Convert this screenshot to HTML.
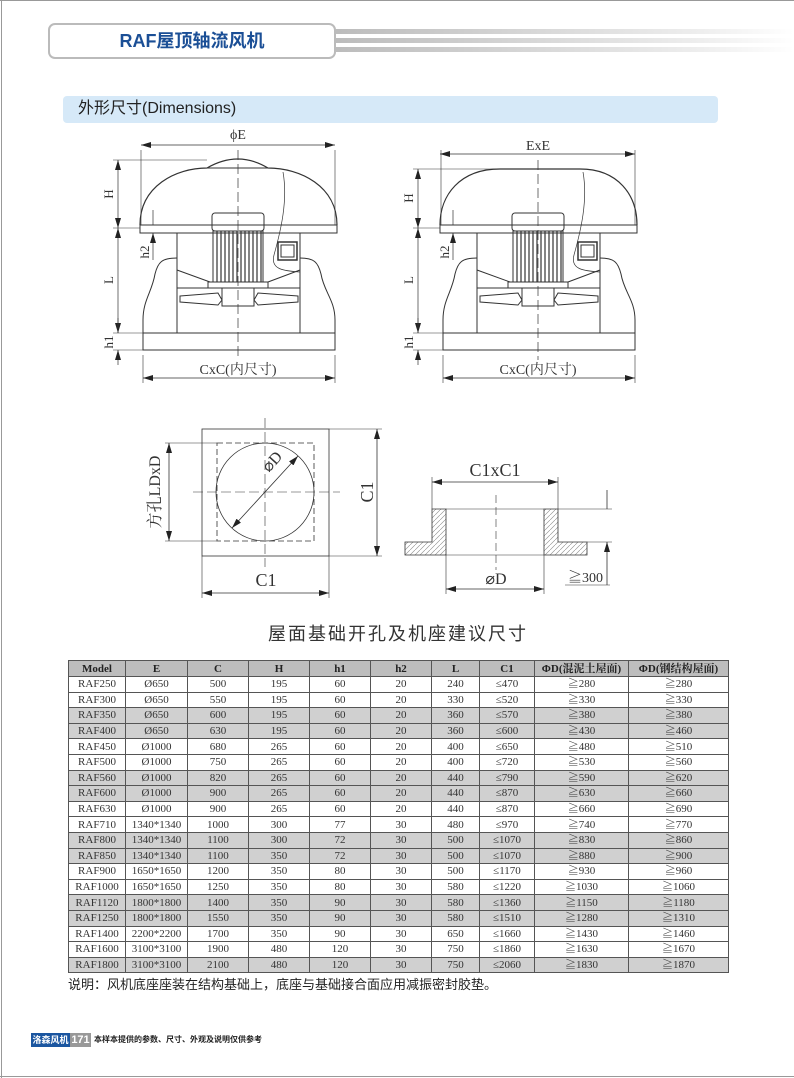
<!DOCTYPE html>
<html><head><meta charset="utf-8">
<style>
html,body{margin:0;padding:0;background:#fff}
body{width:794px;height:1078px;position:relative;overflow:hidden;font-family:"Liberation Sans","Noto Sans CJK SC",sans-serif}
.abs{position:absolute}
table{border-collapse:collapse;table-layout:fixed;font-family:"Liberation Serif","Noto Serif CJK SC",serif;font-size:11px;color:#333}
td{border:1px solid #555;text-align:center;padding:0;height:14.6px;line-height:14px;white-space:nowrap;overflow:hidden}
tr.h td{background:#bdbdbd;font-weight:bold;color:#222;height:15px}
tr.g td{background:#d0d0d0}
</style></head><body>
<div class="abs" style="left:0;top:0;width:794px;height:1px;background:#999"></div>
<div class="abs" style="left:1px;top:0;width:1px;height:1078px;background:#999"></div>
<div class="abs" style="left:0;top:1076px;width:794px;height:1px;background:#999"></div>

<!-- header stripes -->
<div class="abs" style="left:330px;top:29px;width:464px;height:5px;background:linear-gradient(90deg,#bbb,#eee 80%,#fff)"></div>
<div class="abs" style="left:330px;top:38px;width:464px;height:5px;background:linear-gradient(90deg,#bbb,#eee 80%,#fff)"></div>
<div class="abs" style="left:330px;top:47px;width:464px;height:5px;background:linear-gradient(90deg,#bbb,#eee 80%,#fff)"></div>
<div class="abs" style="left:48px;top:23px;width:284px;height:32px;border:2px solid #bbb;border-radius:7px;background:#fff;text-align:center;line-height:32px;font-weight:bold;font-size:18px;color:#1b4f96">RAF屋顶轴流风机</div>

<div class="abs" style="left:63px;top:96px;width:655px;height:27px;background:#d6e9f8;border-radius:4px"></div>
<div class="abs" style="left:78px;top:98px;font-size:16px;line-height:22px;color:#222">外形尺寸(Dimensions)</div>

<svg class="abs" style="left:0;top:0" width="794" height="660" viewBox="0 0 794 660">
<defs>
<marker id="ar" viewBox="0 0 10 6" refX="10" refY="3" markerWidth="10" markerHeight="6" orient="auto-start-reverse" markerUnits="userSpaceOnUse"><path d="M0,0L10,3L0,6Z" fill="#222"/></marker>
<g id="fanbody" fill="none" stroke="#333" stroke-width="1">
<rect x="140" y="225" width="197" height="8"/>
<rect x="177" y="233" width="123" height="100"/>
<path d="M177,258 C162,258 158,262 155,274 C152,292 143,300 143,320 L143,333"/>
<path d="M300,258 C314,258 318,262 321,274 C324,292 335,300 335,320 L335,333"/>
<rect x="143" y="333" width="192" height="17"/>
<rect x="212" y="213" width="52" height="18" rx="3"/>
<rect x="213" y="231" width="50" height="51"/>
<path d="M217,231V282M221,231V282M225,231V282M229,231V282M233,231V282M237,231V282M241,231V282M245,231V282M249,231V282M253,231V282M257,231V282M261,231V282" stroke-width="1.2"/>
<rect x="208" y="282" width="60" height="6"/>
<rect x="222" y="288" width="32" height="18"/>
<path d="M180,296 L218,293 L222,300 L218,305 L180,302 Z"/>
<path d="M298,296 L258,293 L254,300 L258,305 L298,302 Z"/>
<path d="M177,288 H300" />
<path d="M177,270 L210,282 M300,270 L268,282"/>
<rect x="278" y="242" width="19" height="18" stroke-width="1.5"/>
<rect x="281" y="245" width="13" height="12"/>
<path d="M283,172 C288,200 281,230 274,255 C270,270 285,271 300,272" stroke-width="0.7"/>
</g>
</defs>

<g stroke="#333" fill="none">
<!-- left fan -->
<use href="#fanbody"/>
<path d="M140,225 C140,186 176,168 207,168 Q238,150 268,168 C300,168 337,186 337,225" stroke-width="1.2"/>
<path d="M207,168 H268"/>
<path d="M238,150 V360" stroke-dasharray="10,4" stroke-width="0.7"/>
<path d="M141,150 V225 M335,150 V225 M143,355 V383 M335,355 V383" stroke-width="0.6"/>
<path d="M141,145 H335" marker-start="url(#ar)" marker-end="url(#ar)" stroke-width="0.7"/>
<path d="M113,160 H207 M113,228 H140 M113,333 H143 M113,350 H143" stroke-width="0.6"/>
<path d="M118,160 V228" marker-start="url(#ar)" marker-end="url(#ar)" stroke-width="0.7"/>
<path d="M118,228 V333" marker-start="url(#ar)" marker-end="url(#ar)" stroke-width="0.7"/>
<path d="M118,318 V333 M118,365 V350" marker-end="url(#ar)" stroke-width="0.7"/>
<path d="M153,210 V225 M153,260 V233" marker-end="url(#ar)" stroke-width="0.7"/>
<path d="M143,378 H335" marker-start="url(#ar)" marker-end="url(#ar)" stroke-width="0.7"/>

<!-- right fan -->
<g transform="translate(300,0)">
<use href="#fanbody"/>
<path d="M140,225 C140,195 160,169 200,169 H280 C318,169 337,195 337,225" stroke-width="1.2"/>
<path d="M238,160 V360" stroke-dasharray="10,4" stroke-width="0.7"/>
<path d="M141,150 V225 M335,150 V225 M143,355 V383 M335,355 V383" stroke-width="0.6"/>
<path d="M140,154 H335" marker-start="url(#ar)" marker-end="url(#ar)" stroke-width="0.7"/>
<path d="M113,169 H200 M113,228 H140 M113,333 H143 M113,350 H143" stroke-width="0.6"/>
<path d="M118,169 V228" marker-start="url(#ar)" marker-end="url(#ar)" stroke-width="0.7"/>
<path d="M118,228 V333" marker-start="url(#ar)" marker-end="url(#ar)" stroke-width="0.7"/>
<path d="M118,318 V333 M118,365 V350" marker-end="url(#ar)" stroke-width="0.7"/>
<path d="M153,210 V225 M153,260 V233" marker-end="url(#ar)" stroke-width="0.7"/>
<path d="M143,378 H335" marker-start="url(#ar)" marker-end="url(#ar)" stroke-width="0.7"/>
</g>

<!-- plan view -->
<rect x="202" y="429" width="127" height="127" stroke-width="0.8"/>
<rect x="217" y="443" width="97" height="98" stroke-dasharray="6,3" stroke-width="0.8"/>
<circle cx="265" cy="492" r="49" stroke-width="0.8"/>
<path d="M265,418 V567 M193,492 H340" stroke-dasharray="10,4" stroke-width="0.6"/>
<path d="M232,528 L298,456" marker-start="url(#ar)" marker-end="url(#ar)" stroke-width="0.8"/>
<path d="M165,443 H217 M165,541 H217 M329,429 H382 M329,556 H382 M202,556 V598 M329,556 V598" stroke-width="0.6"/>
<path d="M169,443 V541" marker-start="url(#ar)" marker-end="url(#ar)" stroke-width="0.8"/>
<path d="M377,429 V556" marker-start="url(#ar)" marker-end="url(#ar)" stroke-width="0.8"/>
<path d="M202,593 H329" marker-start="url(#ar)" marker-end="url(#ar)" stroke-width="0.8"/>

<!-- section view -->
<defs><pattern id="hat" patternUnits="userSpaceOnUse" width="5" height="5"><path d="M0,5L5,0" stroke="#888" stroke-width="0.6"/></pattern></defs>
<path d="M432,509 H446 V555 H405 V542 H432 Z" fill="url(#hat)" stroke-width="0.8"/>
<path d="M558,509 H544 V555 H587 V542 H558 Z" fill="url(#hat)" stroke-width="0.8"/>
<path d="M446,509 H544 M446,555 H544 M558,509 H612 M587,542 H612" stroke-width="0.6"/>
<path d="M432,477 V509 M558,477 V509 M446,555 V594 M544,555 V594" stroke-width="0.6"/>
<path d="M496,495 V570" stroke-dasharray="8,4" stroke-width="0.6"/>
<path d="M432,482 H558" marker-start="url(#ar)" marker-end="url(#ar)" stroke-width="0.8"/>
<path d="M446,589 H544" marker-start="url(#ar)" marker-end="url(#ar)" stroke-width="0.8"/>
<path d="M607,490 V509 M607,585 V542" marker-end="url(#ar)" stroke-width="0.8"/>
<path d="M565,585 H610" stroke-width="0.6"/>
</g>

<g font-family="Liberation Serif,'Noto Serif CJK SC',serif" fill="#333" font-size="14">
<text x="238" y="139" text-anchor="middle">ϕE</text>
<text x="538" y="150" text-anchor="middle">ExE</text>
<text x="238" y="374" text-anchor="middle">CxC(内尺寸)</text>
<text x="538" y="374" text-anchor="middle">CxC(内尺寸)</text>
<text transform="translate(113,194) rotate(-90)" text-anchor="middle" font-size="13">H</text>
<text transform="translate(113,280) rotate(-90)" text-anchor="middle" font-size="13">L</text>
<text transform="translate(113,342) rotate(-90)" text-anchor="middle" font-size="13">h1</text>
<text transform="translate(149,252) rotate(-90)" text-anchor="middle" font-size="13">h2</text>
<text transform="translate(413,198) rotate(-90)" text-anchor="middle" font-size="13">H</text>
<text transform="translate(413,280) rotate(-90)" text-anchor="middle" font-size="13">L</text>
<text transform="translate(413,342) rotate(-90)" text-anchor="middle" font-size="13">h1</text>
<text transform="translate(449,252) rotate(-90)" text-anchor="middle" font-size="13">h2</text>
<text transform="translate(160,492) rotate(-90)" text-anchor="middle" font-size="16">方孔LDxD</text>
<text transform="translate(276,465) rotate(-48)" text-anchor="middle" font-size="16">⌀D</text>
<text transform="translate(373,492) rotate(-90)" text-anchor="middle" font-size="18">C1</text>
<text x="266" y="586" text-anchor="middle" font-size="18">C1</text>
<text x="495" y="476" text-anchor="middle" font-size="18">C1xC1</text>
<text x="496" y="584" text-anchor="middle" font-size="16">⌀D</text>
<text x="568" y="582" font-size="14">≧300</text>
<text x="398" y="640" text-anchor="middle" font-family="Liberation Sans,'Noto Sans CJK SC',sans-serif" font-size="18" letter-spacing="2">屋面基础开孔及机座建议尺寸</text>
</g>
</svg>

<table class="abs" style="left:68px;top:660px;width:660px">
<colgroup><col style="width:57px"><col style="width:62px"><col style="width:61px"><col style="width:61px"><col style="width:61px"><col style="width:61px"><col style="width:48px"><col style="width:55px"><col style="width:94px"><col style="width:100px"></colgroup>
<tr class="h"><td>Model</td><td>E</td><td>C</td><td>H</td><td>h1</td><td>h2</td><td>L</td><td>C1</td><td>ΦD(混泥土屋面)</td><td>ΦD(钢结构屋面)</td></tr>
<tr><td>RAF250</td><td>Ø650</td><td>500</td><td>195</td><td>60</td><td>20</td><td>240</td><td>≤470</td><td>≧280</td><td>≧280</td></tr>
<tr><td>RAF300</td><td>Ø650</td><td>550</td><td>195</td><td>60</td><td>20</td><td>330</td><td>≤520</td><td>≧330</td><td>≧330</td></tr>
<tr class="g"><td>RAF350</td><td>Ø650</td><td>600</td><td>195</td><td>60</td><td>20</td><td>360</td><td>≤570</td><td>≧380</td><td>≧380</td></tr>
<tr class="g"><td>RAF400</td><td>Ø650</td><td>630</td><td>195</td><td>60</td><td>20</td><td>360</td><td>≤600</td><td>≧430</td><td>≧460</td></tr>
<tr><td>RAF450</td><td>Ø1000</td><td>680</td><td>265</td><td>60</td><td>20</td><td>400</td><td>≤650</td><td>≧480</td><td>≧510</td></tr>
<tr><td>RAF500</td><td>Ø1000</td><td>750</td><td>265</td><td>60</td><td>20</td><td>400</td><td>≤720</td><td>≧530</td><td>≧560</td></tr>
<tr class="g"><td>RAF560</td><td>Ø1000</td><td>820</td><td>265</td><td>60</td><td>20</td><td>440</td><td>≤790</td><td>≧590</td><td>≧620</td></tr>
<tr class="g"><td>RAF600</td><td>Ø1000</td><td>900</td><td>265</td><td>60</td><td>20</td><td>440</td><td>≤870</td><td>≧630</td><td>≧660</td></tr>
<tr><td>RAF630</td><td>Ø1000</td><td>900</td><td>265</td><td>60</td><td>20</td><td>440</td><td>≤870</td><td>≧660</td><td>≧690</td></tr>
<tr><td>RAF710</td><td>1340*1340</td><td>1000</td><td>300</td><td>77</td><td>30</td><td>480</td><td>≤970</td><td>≧740</td><td>≧770</td></tr>
<tr class="g"><td>RAF800</td><td>1340*1340</td><td>1100</td><td>300</td><td>72</td><td>30</td><td>500</td><td>≤1070</td><td>≧830</td><td>≧860</td></tr>
<tr class="g"><td>RAF850</td><td>1340*1340</td><td>1100</td><td>350</td><td>72</td><td>30</td><td>500</td><td>≤1070</td><td>≧880</td><td>≧900</td></tr>
<tr><td>RAF900</td><td>1650*1650</td><td>1200</td><td>350</td><td>80</td><td>30</td><td>500</td><td>≤1170</td><td>≧930</td><td>≧960</td></tr>
<tr><td>RAF1000</td><td>1650*1650</td><td>1250</td><td>350</td><td>80</td><td>30</td><td>580</td><td>≤1220</td><td>≧1030</td><td>≧1060</td></tr>
<tr class="g"><td>RAF1120</td><td>1800*1800</td><td>1400</td><td>350</td><td>90</td><td>30</td><td>580</td><td>≤1360</td><td>≧1150</td><td>≧1180</td></tr>
<tr class="g"><td>RAF1250</td><td>1800*1800</td><td>1550</td><td>350</td><td>90</td><td>30</td><td>580</td><td>≤1510</td><td>≧1280</td><td>≧1310</td></tr>
<tr><td>RAF1400</td><td>2200*2200</td><td>1700</td><td>350</td><td>90</td><td>30</td><td>650</td><td>≤1660</td><td>≧1430</td><td>≧1460</td></tr>
<tr><td>RAF1600</td><td>3100*3100</td><td>1900</td><td>480</td><td>120</td><td>30</td><td>750</td><td>≤1860</td><td>≧1630</td><td>≧1670</td></tr>
<tr class="g"><td>RAF1800</td><td>3100*3100</td><td>2100</td><td>480</td><td>120</td><td>30</td><td>750</td><td>≤2060</td><td>≧1830</td><td>≧1870</td></tr>
</table>

<div class="abs" style="left:68px;top:976px;font-size:13px;line-height:18px;color:#222">说明：风机底座座装在结构基础上，底座与基础接合面应用减振密封胶垫。</div>

<div class="abs" style="left:31px;top:1033px;width:39px;height:14px;background:#1b56a0;color:#fff;font-size:9px;font-weight:bold;line-height:14px;text-align:center">洛森风机</div>
<div class="abs" style="left:70px;top:1033px;width:21px;height:14px;background:#999;color:#fff;font-size:11px;font-weight:bold;line-height:14px;text-align:center">171</div>
<div class="abs" style="left:94px;top:1033px;font-size:8px;font-weight:bold;line-height:14px;color:#222">本样本提供的参数、尺寸、外观及说明仅供参考</div>
</body></html>
